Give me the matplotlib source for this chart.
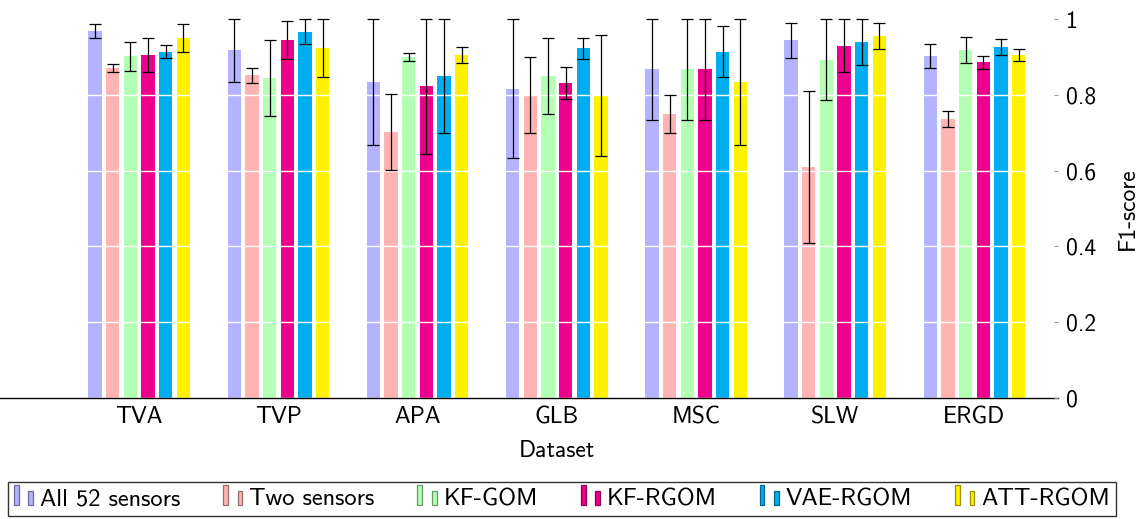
import numpy as np
import matplotlib
matplotlib.use("Agg")
import matplotlib.pyplot as plt
import matplotlib.patches as mpatches
from matplotlib.legend_handler import HandlerBase
import matplotlib.colors as mcolors

plt.rcParams['font.family'] = ['cmss10', 'DejaVu Sans']
plt.rcParams['axes.unicode_minus'] = False

datasets = ["TVA", "TVP", "APA", "GLB", "MSC", "SLW", "ERGD"]
methods = ["All 52 sensors", "Two sensors", "KF-GOM", "KF-RGOM", "VAE-RGOM", "ATT-RGOM"]
colors = ["#b3b3ff", "#ffb3b3", "#b3ffb3", "#ec008c", "#00aeef", "#fff200"]

all52 = [0.968, 0.917, 0.834, 0.816, 0.867, 0.944, 0.902]
all52_err = [0.018, 0.083, 0.167, 0.183, 0.133, 0.046, 0.032]
two = [0.871, 0.851, 0.701, 0.799, 0.750, 0.609, 0.736]
two_err = [0.011, 0.021, 0.100, 0.100, 0.050, 0.200, 0.020]
kfgom = [0.902, 0.844, 0.900, 0.850, 0.867, 0.892, 0.918]
kfgom_err = [0.038, 0.100, 0.010, 0.100, 0.133, 0.107, 0.034]
kfrgom = [0.905, 0.945, 0.822, 0.831, 0.867, 0.930, 0.886]
kfrgom_err = [0.046, 0.051, 0.178, 0.042, 0.133, 0.070, 0.017]
vae = [0.914, 0.967, 0.850, 0.923, 0.914, 0.939, 0.926]
vae_err = [0.017, 0.033, 0.150, 0.028, 0.067, 0.060, 0.022]
att = [0.950, 0.923, 0.905, 0.799, 0.834, 0.955, 0.904]
att_err = [0.036, 0.077, 0.020, 0.160, 0.167, 0.035, 0.016]

series = [all52, two, kfgom, kfrgom, vae, att]
errors = [all52_err, two_err, kfgom_err, kfrgom_err, vae_err, att_err]

yticks = [0, 0.2, 0.4, 0.6, 0.8, 1.0]
ytick_labels = ["0", "0.2", "0.4", "0.6", "0.8", "1"]

W, H = 1142, 519
fig = plt.figure(figsize=(W / 100, H / 100), dpi=100)
ax = fig.add_axes([0.0, 1 - 398 / H, 1058 / W, (398 - 19) / H])

x = np.arange(len(datasets))
step = 0.127
bw = 0.0957
fs = 17
lfs = 17.6

for i, (vals, errs, c) in enumerate(zip(series, errors, colors)):
    vals = np.array(vals)
    errs = np.array(errs)
    up = np.minimum(vals + errs, 1.0) - vals
    pos = x + (i - 2.5) * step
    ax.bar(pos, vals, width=bw, color=c, edgecolor='none', zorder=1)
    ax.errorbar(pos, vals, yerr=[errs, up], fmt='none', ecolor='black',
                elinewidth=0.9, capsize=4, capthick=0.9, zorder=3, clip_on=False)

ax.set_xlim(-1.0, 6.6)
ax.set_ylim(0, 1.0)
ax.set_axisbelow(False)
ax.yaxis.grid(True, color='white', linewidth=1.0, zorder=2)
ax.set_yticks(yticks, labels=ytick_labels)
ax.set_xticks(x, labels=datasets)
ax.yaxis.tick_right()
ax.yaxis.set_label_position('right')
ax.tick_params(axis='y', direction='in', length=3, color='#999999', labelsize=fs, pad=6)
ax.tick_params(axis='x', length=0, labelsize=fs, pad=6)
for s in ['top', 'left', 'right']:
    ax.spines[s].set_visible(False)
ax.spines['bottom'].set_linewidth(1.0)
ax.set_xlabel("Dataset", fontsize=fs)
ax.xaxis.set_label_coords(557 / 1058, -(440 - 398) / 379)
ax.set_ylabel("F1-score", fontsize=fs)
ax.yaxis.set_label_coords(1 + (1117 - 1058) / 1058, 0.5)


class TwoBarHandler(HandlerBase):
    def create_artists(self, legend, orig_handle, xdescent, ydescent,
                       width, height, fontsize, trans):
        fc = orig_handle.get_facecolor()
        rgb = np.array(mcolors.to_rgb(fc))
        ec = tuple(rgb * 0.6)
        bwid = width * 0.24
        x0 = -xdescent
        r1 = mpatches.Rectangle((x0, -ydescent), bwid, height * 1.15,
                                facecolor=fc, edgecolor=ec, linewidth=0.9, transform=trans)
        r2 = mpatches.Rectangle((x0 + width * 0.72, -ydescent), bwid, height * 0.85,
                                facecolor=fc, edgecolor=ec, linewidth=0.9, transform=trans)
        return [r1, r2]


proxies = [mpatches.Patch(facecolor=c) for c in colors]
leg = fig.legend(proxies, methods, ncol=6, loc='center',
                 bbox_to_anchor=(562 / W, 1 - 499 / H),
                 handler_map={mpatches.Patch: TwoBarHandler()},
                 fontsize=lfs, frameon=True, fancybox=False, edgecolor='black',
                 handlelength=0.82, handletextpad=0.25, columnspacing=1.75,
                 borderpad=0.25, handleheight=0.7, borderaxespad=0)
leg.get_frame().set_linewidth(1.0)

fig.savefig("out.png", dpi=100)
